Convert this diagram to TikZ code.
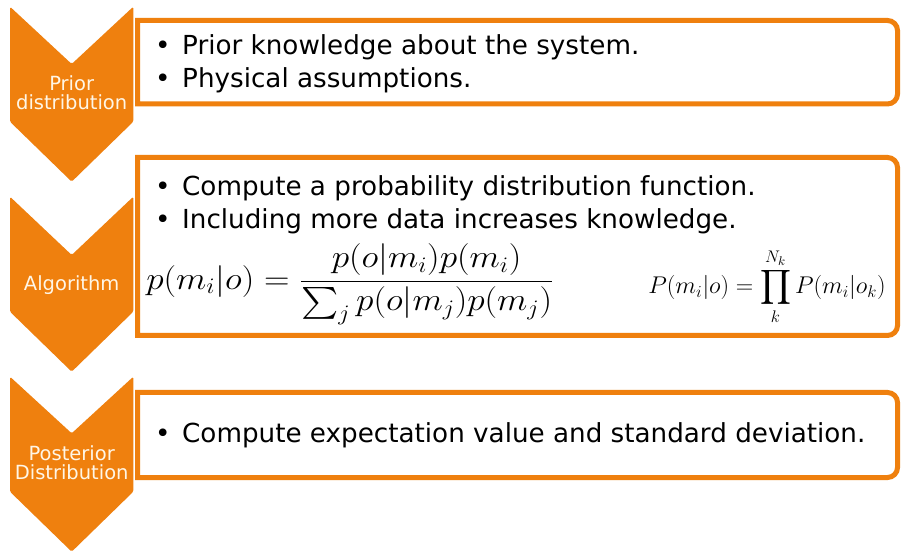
\documentclass[tikz,border=0pt]{standalone}
\usepackage{amsmath}
\usepackage{fontspec}
\setmainfont{DejaVu Sans}
\definecolor{orng}{RGB}{239,128,14}
\definecolor{chtext}{RGB}{255,246,230}
\begin{document}
\begin{tikzpicture}[x=1pt,y=1pt,
  chev/.style={fill=orng, rounded corners=1.5pt},
  chlabel/.style={text=chtext, font=\fontsize{19.5}{21}\selectfont, anchor=base, inner sep=0pt},
  box/.style={draw=orng, line width=5pt, fill=white},
  item/.style={anchor=base west, font=\fontsize{26.2}{30}\selectfont, inner sep=0pt},
  bul/.style={anchor=base west, font=\fontsize{26.2}{30}\selectfont, inner sep=0pt}]
\useasboundingbox (0,0) rectangle (901,554);
\fill[white] (0,0) rectangle (901,554);
% boxes
\path[box] (137.5,450) -- (137.5,533.5) -- (887.5,533.5) arc[start angle=90,end angle=0,radius=10] -- (897.5,460) arc[start angle=0,end angle=-90,radius=10] -- cycle;
\path[box] (137.5,218.5) -- (137.5,396.5) -- (887.5,396.5) arc[start angle=90,end angle=0,radius=10] -- (897.5,228.5) arc[start angle=0,end angle=-90,radius=10] -- cycle;
\path[box] (137.5,76.5) -- (137.5,161.5) -- (887.5,161.5) arc[start angle=90,end angle=0,radius=10] -- (897.5,86.5) arc[start angle=0,end angle=-90,radius=10] -- cycle;
% chevrons
\fill[chev] (10,547.3) -- (71.7,490) -- (133.3,547.3) -- (133.3,432.3) -- (71.7,372.3) -- (10,432.3) -- cycle;
\fill[chev] (10,357.3) -- (71.7,299) -- (133.3,357.3) -- (133.3,242.3) -- (71.7,182.3) -- (10,242.3) -- cycle;
\fill[chev] (10,177.3) -- (71.7,120.7) -- (133.3,177.3) -- (133.3,62.3) -- (71.7,2.3) -- (10,62.3) -- cycle;
% chevron labels
\node[chlabel] (c1a) at (71.7,463.3) {Prior};
\node[chlabel] (c1b) at (71.7,444) {distribution};
\node[chlabel] (c2) at (71.7,263) {Algorithm};
\node[chlabel] (c3a) at (71.7,94) {Posterior};
\node[chlabel] (c3b) at (71.7,75) {Distribution};
% box 1
\node[bul] (d1) at (155,499) {•};
\node[item] (t1) at (182,499) {Prior knowledge about the system.};
\node[bul] (d2) at (155,466) {•};
\node[item] (t2) at (182,466) {Physical assumptions.};
% box 2
\node[bul] (d3) at (155,358) {•};
\node[item] (t3) at (182,358) {Compute a probability distribution function.};
\node[bul] (d4) at (155,325) {•};
\node[item] (t4) at (182,325) {Including more data increases knowledge.};
\node (f1) at (350,270) {\scalebox{1.42}[1.28]{\fontsize{26}{30}\selectfont $\displaystyle p(m_i|o)=\frac{p(o|m_i)p(m_i)}{\sum_j p(o|m_j)p(m_j)}$}};
\node (f2) at (767,267) {\scalebox{1.4}{\fontsize{18}{22}\selectfont $\displaystyle P(m_i|o)=\prod_k^{N_k} P(m_i|o_k)$}};
% box 3
\node[bul] (d5) at (155,111) {•};
\node[item] (t5) at (182,111) {Compute expectation value and standard deviation.};
\end{tikzpicture}
\end{document}
